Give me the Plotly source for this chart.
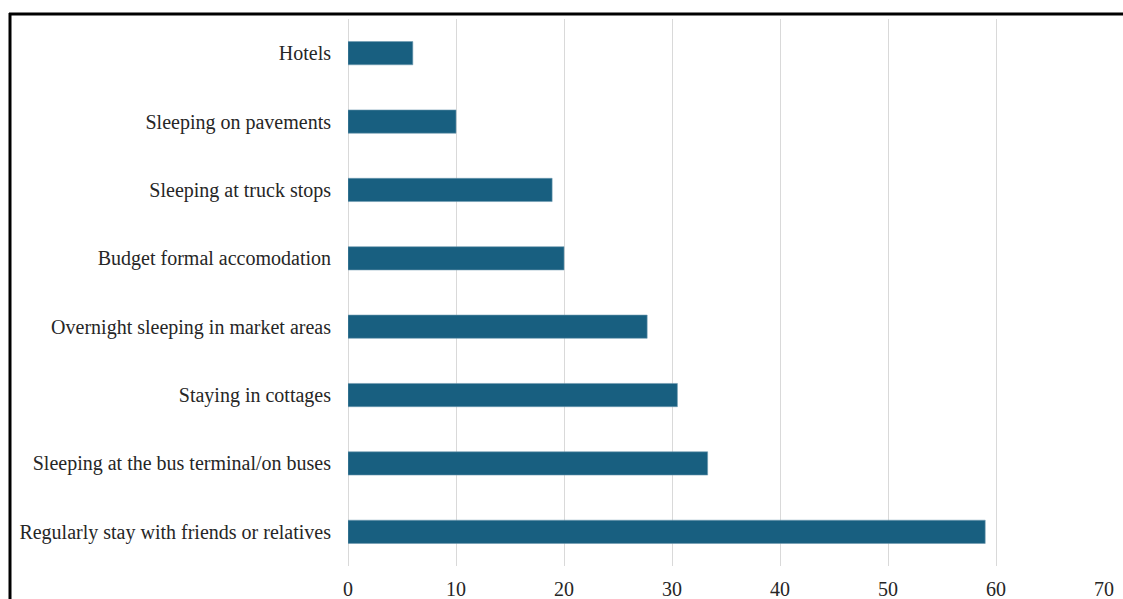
import plotly.graph_objects as go

categories = [
    "Hotels",
    "Sleeping on pavements",
    "Sleeping at truck stops",
    "Budget formal accomodation",
    "Overnight sleeping in market areas",
    "Staying in cottages",
    "Sleeping at the bus terminal/on buses",
    "Regularly stay with friends or relatives",
]
values = [6.0, 10.0, 18.9, 20.0, 27.7, 30.5, 33.3, 59.0]
x_ticks = [0, 10, 20, 30, 40, 50, 60, 70]

W, H = 1123, 599
L, R, T, B = 348, 19, 19, 33
pw, ph = W - L - R, H - T - B

def px_x(p):
    return (p - L) / pw

def px_y(p):
    return (H - B - p) / ph

fig = go.Figure(go.Bar(
    y=categories, x=values, orientation="h",
    marker=dict(color="#185f80", line=dict(color="#6f9ab0", width=0.6)),
    width=0.34,
))

fig.update_layout(
    width=W, height=H,
    margin=dict(l=L, r=R, t=T, b=B, pad=0, autoexpand=False),
    paper_bgcolor="white", plot_bgcolor="white",
    font=dict(family="Liberation Serif, Times New Roman, serif", size=20, color="#262626"),
    showlegend=False,
    xaxis=dict(range=[0, 70], tickvals=x_ticks, showgrid=True, gridcolor="#d9d9d9",
               gridwidth=1, zeroline=True, zerolinecolor="#d9d9d9", zerolinewidth=1,
               showline=False, ticks="", ticklabelstandoff=9, automargin=False,
               tickfont=dict(size=20, color="#262626")),
    yaxis=dict(autorange="reversed", showgrid=False, zeroline=False, showline=False,
               ticks="", ticklabelstandoff=16, automargin=False,
               tickfont=dict(size=20, color="#262626")),
    shapes=[
        dict(type="line", xref="paper", yref="paper", x0=px_x(9), x1=px_x(1130),
             y0=px_y(14), y1=px_y(14), line=dict(color="black", width=3)),
        dict(type="line", xref="paper", yref="paper", x0=px_x(10), x1=px_x(10),
             y0=px_y(13), y1=px_y(610), line=dict(color="black", width=3)),
    ],
)

fig.write_html(
    "out.html",
    config={"displayModeBar": False},
    post_script="document.body.style.margin='0';document.body.style.overflow='hidden';",
)
